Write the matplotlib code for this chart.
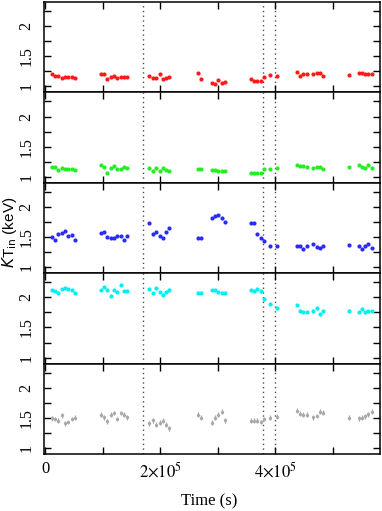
import matplotlib
matplotlib.use('Agg')
import matplotlib.pyplot as plt
import numpy as np

# tiempos de cada punto (s)
tiempo = [11600, 17400, 23200, 29000, 34800, 40600, 46400, 52200,
          97000, 102600, 108400, 114300, 120000, 125700, 131600, 137400, 143100,
          181400, 187300, 193000, 199000, 204800, 210400, 216200,
          266800, 272000, 290000, 295800, 301400, 307200, 313000,
          357700, 363400, 369200, 375000, 380800, 392000, 404000,
          437700, 443500, 449200, 455000, 466700, 472400, 478200, 484000,
          529300, 545200, 551000, 556500, 562300, 568000]

# kT_in para cada banda (keV)
kt_rojo = [1.21, 1.17, 1.17, 1.14, 1.16, 1.16, 1.16, 1.14,
           1.20, 1.20, 1.13, 1.15, 1.18, 1.14, 1.15, 1.15, 1.15,
           1.18, 1.14, 1.14, 1.20, 1.13, 1.14, 1.15,
           1.22, 1.13, 1.055, 1.045, 1.11, 1.06, 1.07,
           1.12, 1.09, 1.09, 1.09, 1.155, 1.19, 1.17,
           1.24, 1.18, 1.20, 1.20, 1.205, 1.23, 1.22, 1.18,
           1.19, 1.23, 1.23, 1.21, 1.21, 1.20]
kt_verde = [1.16, 1.16, 1.12, 1.15, 1.13, 1.13, 1.13, 1.12,
            1.20, 1.155, 1.07, 1.15, 1.18, 1.13, 1.13, 1.16, 1.15,
            1.15, 1.10, 1.14, 1.10, 1.14, 1.12, 1.10,
            1.13, 1.13, 1.12, 1.12, 1.09, 1.09, 1.09,
            1.06, 1.07, 1.07, 1.07, 1.13, 1.13, 1.145,
            1.195, 1.18, 1.18, 1.17, 1.14, 1.17, 1.17, 1.13,
            1.17, 1.195, 1.16, 1.145, 1.195, 1.14]
kt_azul = [1.50, 1.45, 1.55, 1.57, 1.60, 1.51, 1.53, 1.45,
           1.57, 1.59, 1.50, 1.48, 1.48, 1.51, 1.51, 1.45, 1.52,
           1.74, 1.545, 1.58, 1.51, 1.49, 1.59, 1.645,
           1.485, 1.485, 1.81, 1.85, 1.87, 1.82, 1.745,
           1.73, 1.73, 1.55, 1.48, 1.43, 1.357, 1.357,
           1.357, 1.357, 1.31, 1.36, 1.38, 1.34, 1.325, 1.35,
           1.37, 1.357, 1.31, 1.36, 1.385, 1.32]
kt_cian = [2.12, 2.11, 2.08, 2.14, 2.15, 2.14, 2.12, 2.07,
           2.12, 2.17, 2.13, 2.03, 2.12, 2.09, 2.20, 2.11, 2.11,
           2.14, 2.07, 2.15, 2.09, 2.04, 2.09, 2.13,
           2.077, 2.08, 2.12, 2.12, 2.09, 2.077, 2.08,
           2.12, 2.11, 2.14, 2.10, 1.98, 1.89, 1.815,
           1.87, 1.78, 1.76, 1.76, 1.78, 1.815, 1.717, 1.77,
           1.78, 1.76, 1.805, 1.75, 1.77, 1.77]
kt_gris = [1.49, 1.48, 1.45, 1.54, 1.41, 1.43, 1.48, 1.50,
           1.55, 1.51, 1.44, 1.55, 1.58, 1.48, 1.58, 1.55, 1.51,
           1.41, 1.46, 1.385, 1.42, 1.45, 1.385, 1.33,
           1.55, 1.50, 1.42, 1.50, 1.55, 1.60, 1.46,
           1.455, 1.455, 1.455, 1.43, 1.48, 1.50, 1.52,
           1.62, 1.57, 1.55, 1.55, 1.51, 1.53, 1.605, 1.585,
           1.50, 1.495, 1.50, 1.525, 1.56, 1.605]

series = [kt_rojo, kt_verde, kt_azul, kt_cian, kt_gris]
colores = ['#ff1a1a', '#22ee22', '#2a2aff', '#00f0f0', '#a8a8a8']
errores = [0.01, 0.01, 0.01, 0.02, 0.04]  # barras de error aproximadas

# lineas verticales punteadas
lineas_v = [170500, 378600, 399500]

plt.rcParams['mathtext.fontset'] = 'stix'
plt.rcParams['font.family'] = 'Liberation Serif'

fig, axes = plt.subplots(5, 1, sharex=True, figsize=(3.82, 5.11), dpi=100)
fig.subplots_adjust(left=0.115, right=0.995, top=0.996, bottom=0.1115, hspace=0)

for i, ax in enumerate(axes):
    ms = 2.4 if i == 4 else 3.0
    ax.errorbar(tiempo, series[i], yerr=errores[i], fmt='o', color=colores[i],
                ms=ms, mec='none', elinewidth=0.9, capsize=0, zorder=3)
    for xv in lineas_v:
        ax.axvline(xv, color='0.3', lw=1.0, ls=(0, (1, 2.4)), zorder=1)
    ax.set_ylim(0.9, 2.4)
    ax.set_xlim(-2000, 582600)
    ax.set_yticks([1, 1.5, 2])
    ax.set_yticks([1.25, 1.75, 2.25], minor=True)
    ax.set_yticklabels(['1', '1.5', '2'])
    plt.setp(ax.get_yticklabels(), rotation=90, va='center')
    ax.set_xticks([0, 100000, 200000, 300000, 400000, 500000])
    ax.tick_params(which='both', direction='in', top=True, right=True,
                   length=5, width=1.0, labelsize=11.5)
    ax.tick_params(axis='y', pad=7)
    ax.tick_params(axis='x', pad=5)
    for s in ax.spines.values():
        s.set_linewidth(1.1)

axes[-1].set_xticklabels(['0', '', r'$2{\times}10^5$', '', r'$4{\times}10^5$', ''],
                         fontsize=12)

fig.text(0.026, 0.546, r'$K$T$_{\rm in}$ (keV)', rotation=90, ha='center', va='center',
         family='Liberation Sans', fontsize=11, math_fontfamily='dejavusans')
fig.text(0.547, 0.018, 'Time (s)', ha='center', va='center', fontsize=12)

fig.savefig('out.png', dpi=100)
